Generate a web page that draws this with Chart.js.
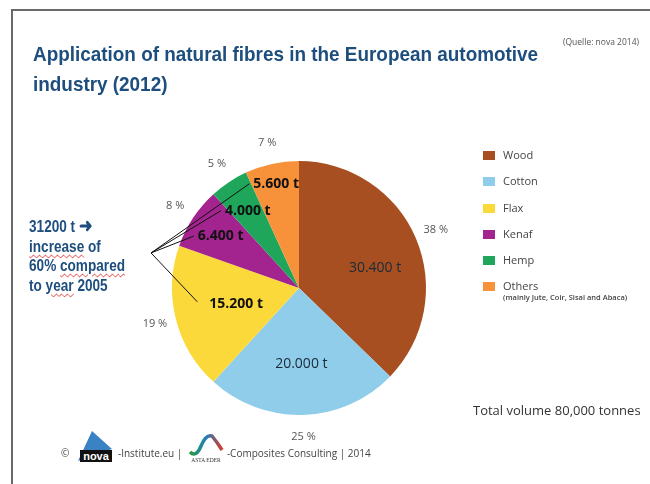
<!DOCTYPE html>
<html lang="en">
<head>
<meta charset="UTF-8">
<title>Application of natural fibres in the European automotive industry (2012)</title>
<script src="https://cdn.jsdelivr.net/npm/chart.js"></script>
<style>
  html, body { margin: 0; padding: 0; background: #fff; }
  body { width: 650px; height: 484px; position: relative; overflow: hidden; font-family: 'Open Sans', sans-serif; }
  #frame { position: absolute; left: 11px; top: 9px; width: 700px; height: 520px; border-left: 2px solid #6a6a6a; border-top: 2px solid #6a6a6a; }
  #pie { position: absolute; left: 0; top: 0; }
  .title { position: absolute; left: 33px; top: 39px; font-family: 'Liberation Sans', sans-serif; font-weight: bold; font-size: 21px; line-height: 30px; color: #1d4e7e; white-space: nowrap; transform: scaleX(0.9); transform-origin: 0 0; }
  .source { position: absolute; left: 563px; top: 36px; font-size: 8.5px; color: #555; white-space: nowrap; }
  .note { position: absolute; left: 29px; top: 217px; font-family: 'Liberation Sans', sans-serif; font-weight: bold; font-size: 16px; line-height: 19.5px; color: #1d4e7e; white-space: nowrap; transform: scaleX(0.85); transform-origin: 0 0; }
  .arrow { font-size: 19px; line-height: 10px; }
  .squiggle { text-decoration: underline wavy #e03030; text-decoration-thickness: 1px; text-underline-offset: 2px; }
  #legend { position: absolute; left: 483px; top: 148px; }
  .item { position: relative; height: 26.3px; font-size: 11px; color: #444; }
  .item .sw { position: absolute; left: 0; top: 3px; width: 12px; height: 9px; }
  .item .lab { position: absolute; left: 20px; top: -1px; white-space: nowrap; }
  .item .sub { position: absolute; left: 20px; top: 13px; font-size: 7.5px; font-weight: 600; white-space: nowrap; color: #444; }
  .total { position: absolute; left: 473px; top: 401px; font-size: 13px; color: #333; }
  .footer { position: absolute; left: 61px; top: 435px; font-size: 10px; color: #444; white-space: nowrap; }
  .footer span, .footer svg { vertical-align: middle; }
  .footer svg { position: relative; top: -6px; }
</style>
</head>
<body>
<div id="frame"></div>
<canvas id="pie" width="650" height="484"></canvas>

<div class="title">Application of natural fibres in the European automotive<br>industry (2012)</div>
<div class="source">(Quelle: nova 2014)</div>

<div class="note">31200 t <span class="arrow">&#10140;</span><br><span class="squiggle">increase</span> of<br>60% <span class="squiggle">compared</span><br>to <span class="squiggle">year</span> 2005</div>

<div id="legend"></div>

<div class="total">Total volume 80,000 tonnes</div>

<div class="footer">
  <span>&copy;</span>
  <svg width="46" height="36" viewBox="0 0 46 36">
    <path d="M6 32 L20 2 L40 20 Z" fill="#3b82c4"/>
    <rect x="8" y="21" width="32" height="12" fill="#111"/>
    <text x="24" y="31" font-size="11" font-weight="bold" fill="#fff" text-anchor="middle" font-family="Liberation Sans">nova</text>
  </svg><span>-Institute.eu |</span>
  <svg width="42" height="34" viewBox="0 0 42 34">
    <defs><linearGradient id="g" x1="0" x2="1"><stop offset="0" stop-color="#2b9a3a"/><stop offset="0.5" stop-color="#1e7fc0"/><stop offset="1" stop-color="#d33a2a"/></linearGradient></defs>
    <path d="M5 22 Q11 28 16 16 T27 6 Q32 12 37 20" stroke="url(#g)" stroke-width="3.5" fill="none"/>
    <text x="21" y="32" font-size="5.5" fill="#333" text-anchor="middle" font-family="Liberation Serif">ASTA EDER</text>
  </svg><span>-Composites Consulting | 2014</span>
</div>

<script>
// fibre types (clockwise from 12 o'clock)
const fibres = ['Wood', 'Cotton', 'Flax', 'Kenaf', 'Hemp', 'Others'];
// volume in tonnes
const tonnes = [30400, 20000, 15200, 6400, 4000, 5600];
// share labels printed next to the slices
const shares = [38, 25, 19, 8, 5, 7];
const colours = ['#a84f21', '#8fcdea', '#fcd93b', '#a3238f', '#1fa65a', '#f7923a'];

// label styling (not data)
const tonneDepth = [0.62, 0.6, 0.51, 0.74, 0.73, 0.84];
const tonneTurn  = [0.14, 0, 0, 0, 0, 0];
const tonneBold  = [false, false, true, true, true, true];

// html legend
const legend = document.getElementById('legend');
fibres.forEach((f, i) => {
  const d = document.createElement('div');
  d.className = 'item';
  d.innerHTML = '<div class="sw" style="background:' + colours[i] + '"></div><div class="lab">' + f + '</div>' +
    (f === 'Others' ? '<div class="sub">(mainly Jute, Coir, Sisal and Abaca)</div>' : '');
  legend.appendChild(d);
});

function fmtT(v) {
  return String(v).replace(/\B(?=(\d{3})+(?!\d))/g, '.') + ' t';
}

const sliceLabels = {
  id: 'sliceLabels',
  afterDatasetsDraw(chart) {
    const ctx = chart.ctx;
    const arcs = chart.getDatasetMeta(0).data;
    const ends = [];
    let c = null;
    ctx.save();
    ctx.textAlign = 'center';
    ctx.textBaseline = 'middle';
    arcs.forEach((arc, i) => {
      const p = arc.getProps(['x', 'y', 'startAngle', 'endAngle', 'outerRadius'], true);
      const mid = (p.startAngle + p.endAngle) / 2;
      c = p;
      // share outside
      const rp = p.outerRadius * 1.17;
      ctx.font = '11px "Open Sans"';
      ctx.fillStyle = '#555';
      ctx.fillText(shares[i] + ' %', p.x + Math.cos(mid) * rp, p.y + Math.sin(mid) * rp);
      // tonnes inside
      const a = mid + tonneTurn[i];
      const rt = p.outerRadius * tonneDepth[i];
      const tx = p.x + Math.cos(a) * rt, ty = p.y + Math.sin(a) * rt;
      ctx.font = (tonneBold[i] ? 'bold ' : '') + '14px "Open Sans"';
      ctx.fillStyle = tonneBold[i] ? '#111' : '#1a2a3a';
      const txt = fmtT(tonnes[i]);
      ctx.fillText(txt, tx, ty);
      if (i >= 2) ends.push([tx - ctx.measureText(txt).width / 2 - (i === 2 ? 12 : 4), ty - (i === 2 ? 2 : 0)]);
    });
    // callout lines to the 31200 t note
    const ox = c.x - c.outerRadius * 1.165, oy = c.y - c.outerRadius * 0.276;
    ctx.strokeStyle = '#111';
    ctx.lineWidth = 1;
    ends.forEach(e => {
      ctx.beginPath();
      ctx.moveTo(ox, oy);
      ctx.lineTo(e[0], e[1]);
      ctx.stroke();
    });
    ctx.restore();
  }
};

new Chart(document.getElementById('pie'), {
  type: 'pie',
  data: {
    labels: fibres,
    datasets: [{
      data: tonnes,
      backgroundColor: colours,
      borderWidth: 0
    }]
  },
  options: {
    responsive: false,
    animation: false,
    layout: { padding: { left: 172, right: 224, top: 161, bottom: 69 } },
    plugins: { legend: { display: false }, tooltip: { enabled: false } }
  },
  plugins: [sliceLabels]
});
</script>
</body>
</html>
